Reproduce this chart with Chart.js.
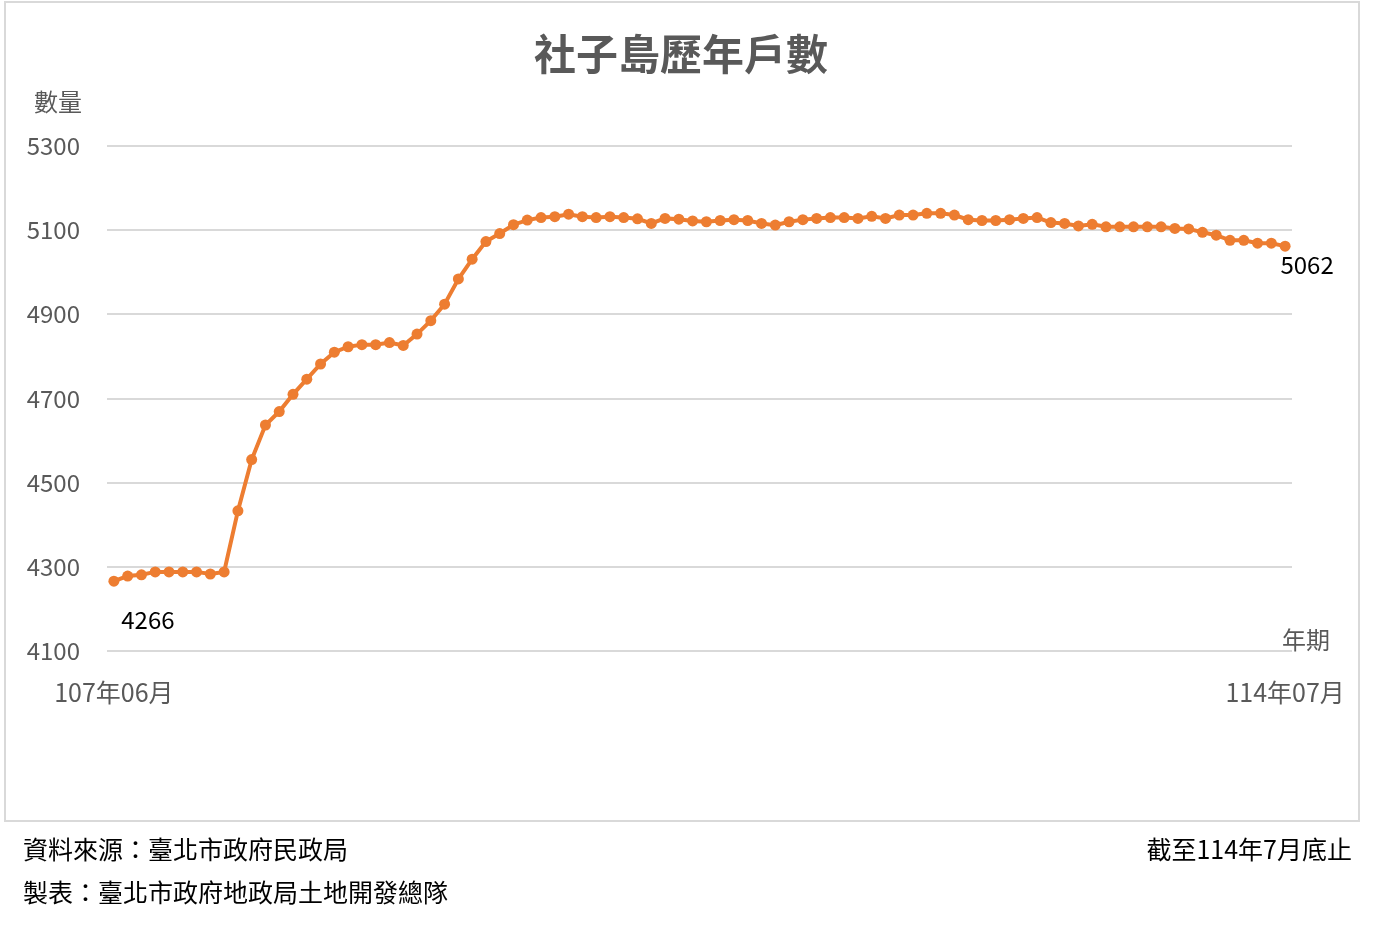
<!DOCTYPE html>
<html>
<head>
<meta charset="utf-8">
<script src="https://cdn.jsdelivr.net/npm/chart.js@4"></script>
<style>
  body { margin: 0; background: #fff; font-family: "Noto Sans CJK TC", "Noto Sans", sans-serif; }
  #wrap { position: absolute; left: 0; top: 0; width: 1384px; height: 934px; }
  #grafica { position: absolute; left: 0; top: 0; }
  #frame { position: absolute; left: 4px; top: 1px; width: 1352px; height: 817px; border: 2px solid #d9d9d9; pointer-events: none; }
  .note { position: absolute; font-size: 25px; color: #000; line-height: 30px; white-space: nowrap; }
</style>
</head>
<body>
<div id="wrap">
  <canvas id="grafica" width="1362" height="934"></canvas>
  <div id="frame"></div>
  <div class="note" style="left:23px; top:833px;">資料來源：臺北市政府民政局</div>
  <div class="note" style="left:23px; top:876px;">製表：臺北市政府地政局土地開發總隊</div>
  <div class="note" style="right:32px; top:833px;">截至114年7月底止</div>
</div>
<script>
// meses desde 107年06月 hasta 114年07月
const meses = [];
for (let a = 107, m = 6; a < 114 || (a == 114 && m <= 7); m++) {
  if (m > 12) { m = 1; a++; }
  meses.push(a + "年" + String(m).padStart(2, "0") + "月");
}

const hogares = [
  4266, 4278, 4281, 4288, 4288, 4288, 4288, 4283, 4288, 4433,
  4555, 4637, 4669, 4710, 4746, 4782, 4810, 4823, 4828, 4828,
  4833, 4826, 4853, 4885, 4924, 4984, 5031, 5073, 5092, 5113,
  5124, 5130, 5132, 5138, 5132, 5130, 5132, 5130, 5127, 5116,
  5128, 5126, 5122, 5120, 5123, 5125, 5123, 5116, 5112, 5120,
  5125, 5128, 5130, 5130, 5128, 5133, 5128, 5136, 5136, 5140,
  5140, 5136, 5125, 5123, 5123, 5125, 5128, 5130, 5118, 5116,
  5110, 5114, 5108, 5108, 5108, 5108, 5108, 5104, 5103, 5095,
  5088, 5076, 5076, 5069, 5069, 5062
];

const ticksY = [4100, 4300, 4500, 4700, 4900, 5100, 5300];

const gris = "#595959";
const fuente = '"Noto Sans CJK TC", "Noto Sans", sans-serif';

// textos extra: titulos de ejes y etiquetas del primer y ultimo punto
const textos = {
  id: "textos",
  afterDatasetsDraw(chart) {
    const ctx = chart.ctx;
    const pts = chart.getDatasetMeta(0).data;
    const ult = pts.length - 1;
    ctx.save();
    ctx.font = "24px " + fuente;
    ctx.textAlign = "center";
    ctx.textBaseline = "middle";
    ctx.fillStyle = gris;
    ctx.fillText("數量", 58, 102);
    ctx.fillText("年期", 1306, chart.scales.y.getPixelForValue(4100) - 11);
    ctx.fillStyle = "#000";
    ctx.fillText(hogares[0], pts[0].x + 34, pts[0].y + 39);
    ctx.fillText(hogares[ult], pts[ult].x + 22, pts[ult].y + 19);
    ctx.restore();
  }
};

const config = {
  type: "line",
  data: {
    labels: meses,
    datasets: [{
      label: "戶數",
      data: hogares,
      borderColor: "#ED7D31",
      backgroundColor: "#ED7D31",
      borderWidth: 4,
      pointRadius: 5.5,
      pointBorderWidth: 0,
      tension: 0
    }]
  },
  options: {
    responsive: false,
    animation: false,
    layout: { padding: 0 },
    plugins: {
      legend: { display: false },
      tooltip: { enabled: false },
      title: {
        display: true,
        text: "社子島歷年戶數",
        color: gris,
        font: { family: fuente, size: 42, weight: "bold" },
        padding: { top: 29, bottom: 66.6 }
      }
    },
    scales: {
      x: {
        offset: true,
        grid: { display: false, drawTicks: false },
        border: { display: false },
        ticks: {
          autoSkip: false,
          maxRotation: 0,
          padding: 26,
          color: gris,
          font: { family: fuente, size: 25 },
          callback: (v, i) => (i == 0 || i == meses.length - 1) ? meses[i] : ""
        },
        afterFit: (axis) => {
          axis.height = 283;
          axis.paddingLeft = 0;
          axis.paddingRight = 0;
        }
      },
      y: {
        min: ticksY[0],
        max: ticksY[ticksY.length - 1],
        afterBuildTicks: (axis) => { axis.ticks = ticksY.map(v => ({ value: v })); },
        grid: { color: "#d9d9d9", lineWidth: 2, drawTicks: false },
        border: { display: false },
        ticks: {
          padding: 27,
          color: gris,
          font: { family: fuente, size: 24 },
          callback: (v) => String(v)
        },
        afterFit: (axis) => { axis.width = 107; }
      },
      derecha: {
        position: "right",
        grid: { display: false, drawTicks: false },
        border: { display: false },
        ticks: { display: false },
        afterFit: (axis) => { axis.width = 70; }
      }
    }
  },
  plugins: [textos]
};

const chart = new Chart(document.querySelector("#grafica"), config);
</script>
</body>
</html>
